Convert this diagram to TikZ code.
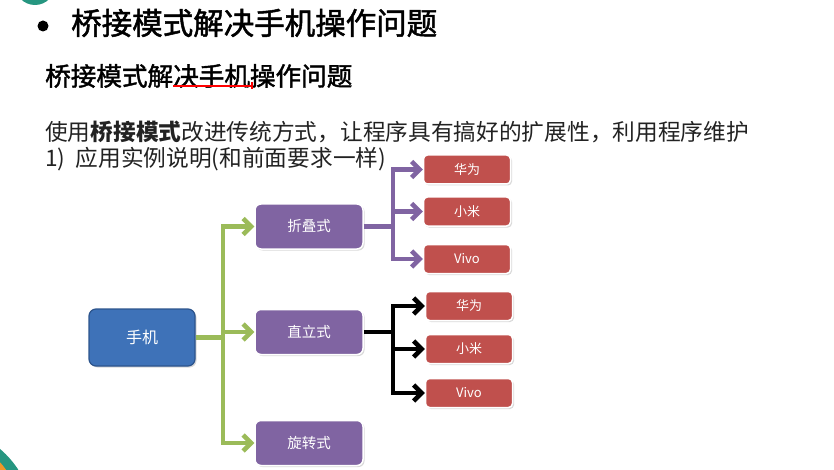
\documentclass[tikz,border=0pt]{standalone}
\usepackage{fontspec}
\setmainfont{Noto Sans CJK SC}
\newfontfamily\headfont{Noto Sans CJK SC}[FakeBold=1.6]
\usetikzlibrary{arrows.meta,shadows}

\definecolor{phoneblue}{RGB}{62,114,184}
\definecolor{phoneedge}{RGB}{44,84,140}
\definecolor{kindpurple}{RGB}{128,100,162}
\definecolor{brandred}{RGB}{192,80,77}
\definecolor{armgreen}{RGB}{155,187,89}
\definecolor{decoteal}{RGB}{38,150,128}
\definecolor{decoorange}{RGB}{240,150,40}
\definecolor{inkgray}{RGB}{34,34,34}

\begin{document}
\begin{tikzpicture}[
			x=1pt, y=-1pt,
			font=\fontsize{14}{16}\selectfont,
			>={Straight Barb[length=8pt,width=16pt]},
			root/.style={
				rectangle, rounded corners=7pt,
				draw=phoneedge, fill=phoneblue, line width=1.2pt,
				text=white, align=center,
				minimum width=106pt, minimum height=57pt, inner sep=2pt,
				font=\fontsize{16}{18}\selectfont,
				drop shadow={shadow xshift=1.5pt, shadow yshift=-1.5pt, opacity=0.3}
			},
			kind/.style={
				rectangle, rounded corners=6pt,
				draw=white, fill=kindpurple, line width=1.5pt,
				text=white, align=center,
				minimum width=108pt, minimum height=45pt, inner sep=2pt,
				font=\fontsize{14.5}{16}\selectfont,
				drop shadow={shadow xshift=1.5pt, shadow yshift=-1.5pt, opacity=0.3}
			},
			brand/.style={
				rectangle, rounded corners=4pt,
				draw=white, fill=brandred, line width=1.5pt,
				text=white, align=center,
				minimum width=87pt, minimum height=29pt, inner sep=2pt,
				font=\fontsize{13}{15}\selectfont,
				drop shadow={shadow xshift=1.5pt, shadow yshift=-1.5pt, opacity=0.3}
			},
			gline/.style={line width=4.5pt, armgreen},
			garr/.style={->, line width=4.5pt, armgreen},
			pline/.style={line width=4.5pt, kindpurple},
			parr/.style={->, line width=4.5pt, kindpurple},
			kline/.style={line width=4.5pt, black},
			karr/.style={->, line width=4.5pt, black},
			txt/.style={anchor=west, inner sep=0pt, inkgray}
			]
			
			\useasboundingbox (0,0) rectangle (834,470);
			
			%% ── Slide corners ───────────────────────────────────────────────────
			\begin{scope}
				\clip (0,0) rectangle (834,470);
				\fill[decoteal] (35,-15) circle (20);
				\fill[decoteal] (-60,520) circle (93);
				\fill[decoorange] (-40,500) circle (55);
			\end{scope}
			
			%% ── Headings ────────────────────────────────────────────────────────
			\node[circle, fill=black, inner sep=0pt, minimum size=11pt] (bullet) at (43,26) {};
			\node[txt, black, font=\fontsize{30.5}{32}\headfont] (title) at (71,23) {桥接模式解决手机操作问题};
			\node[txt, black, font=\fontsize{25.6}{28}\headfont] (subtitle) at (45,76) {桥接模式解决手机操作问题};
			\coordinate (markfrom) at (173,86);
			\coordinate (markto) at (253,86);
			\draw[red, line width=1.6pt, -{Bar[width=7pt]}] (markfrom) -- (markto);
			
			\node[txt, font=\fontsize{22.7}{24}\selectfont] (goal) at (45,132) {使用\textbf{桥接模式}改进传统方式，让程序具有搞好的扩展性，利用程序维护};
			\node[txt, font=\fontsize{22.7}{24}\selectfont] (case) at (45,159) {1)\ \ 应用实例说明(和前面要求一样)};
			
			%% ── Phone and its kinds ─────────────────────────────────────────────
			\node[root] (phone)   at (142,337.5) {手机};
			\node[kind] (fold)    at (309,226.5) {折叠式};
			\node[kind] (upright) at (309,332)   {直立式};
			\node[kind] (rotate)  at (309,443)   {旋转式};
			
			\coordinate (gbus) at (223,337.5);
			\draw[gline] (phone.east) -- (gbus);
			\foreach \k in {fold, upright, rotate}
			\draw[garr] (gbus) |- (\k.west);
			
			%% ── Brands of the folding phone ─────────────────────────────────────
			\node[brand] (foldhw)   at (467,169.5) {华为};
			\node[brand] (foldmi)   at (467,211.5) {小米};
			\node[brand] (foldvivo) at (467,259)   {Vivo};
			
			\coordinate (pbus) at (393,226.5);
			\draw[pline] (fold.east) -- (pbus);
			\foreach \b in {foldhw, foldmi, foldvivo}
			\draw[parr] (pbus) |- (\b.west);
			
			%% ── Brands of the upright phone ─────────────────────────────────────
			\node[brand] (uphw)   at (469,306) {华为};
			\node[brand] (upmi)   at (469,349) {小米};
			\node[brand] (upvivo) at (469,393) {Vivo};
			
			\coordinate (kbus) at (393,332);
			\draw[kline] (upright.east) -- (kbus);
			\foreach \b in {uphw, upmi, upvivo}
			\draw[karr] (kbus) |- (\b.west);
			
		\end{tikzpicture}
\end{document}
